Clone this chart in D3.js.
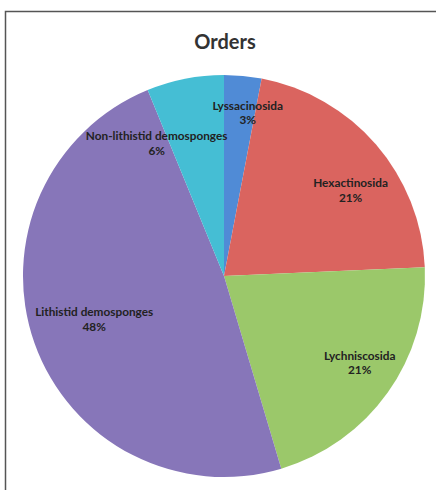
<!DOCTYPE html>
<html><head><meta charset="utf-8">
<script src="https://cdn.jsdelivr.net/npm/d3@7"></script>
<style>html,body{margin:0;padding:0;background:#fff;}svg{display:block;}</style>
</head><body>
<svg id="chart" width="436" height="490"></svg>
<script>
const title = "Orders";
const categories = ["Lyssacinosida","Hexactinosida","Lychniscosida","Lithistid demosponges","Non-lithistid demosponges"];
const values = [3.0, 21.3, 21.1, 48.4, 6.2];
const colors = ["#508bd6","#da645f","#9bc86a","#8776b9","#45bed4"];
// label nudges (layout only), relative to arc centroid
const labelNudge = [[9,-10],[8,14],[8,-7],[18,-12],[-37,18]];

const W = 436, H = 490, cx = 224, cy = 276, R = 201;
const svg = d3.select("#chart");

// frame
svg.append("path").attr("d", `M5.5,${H} L5.5,11.5 L${W},11.5`)
  .attr("fill","none").attr("stroke","#555").attr("stroke-width",1.5);

svg.append("text").attr("x",225).attr("y",49).attr("text-anchor","middle")
  .attr("font-family","Lato, 'Open Sans', sans-serif").attr("font-weight","bold")
  .attr("font-size",20).attr("fill","#333").text(title);

const total = d3.sum(values);
const pie = d3.pie().sort(null).value(d => d)(values);
const arc = d3.arc().innerRadius(0).outerRadius(R);
const labelArc = d3.arc().innerRadius(R*0.78).outerRadius(R*0.78);

const g = svg.append("g").attr("transform",`translate(${cx},${cy})`);
g.selectAll("path.slice").data(pie).join("path").attr("class","slice")
  .attr("d", arc).attr("fill",(d,i)=>colors[i]);

const lab = g.selectAll("text.lab").data(pie).join("text").attr("class","lab")
  .attr("text-anchor","middle")
  .attr("font-family","Lato, 'Open Sans', sans-serif").attr("font-weight","bold")
  .attr("font-size",11.8).attr("fill","#222")
  .attr("transform",(d,i)=>{const c=labelArc.centroid(d);return `translate(${c[0]+labelNudge[i][0]},${c[1]+labelNudge[i][1]})`;});
lab.append("tspan").attr("x",0).attr("y",0).text((d,i)=>categories[i]);
lab.append("tspan").attr("x",0).attr("y",14.5).text(d=>Math.round(d.data/total*100)+"%");
</script>
</body></html>
